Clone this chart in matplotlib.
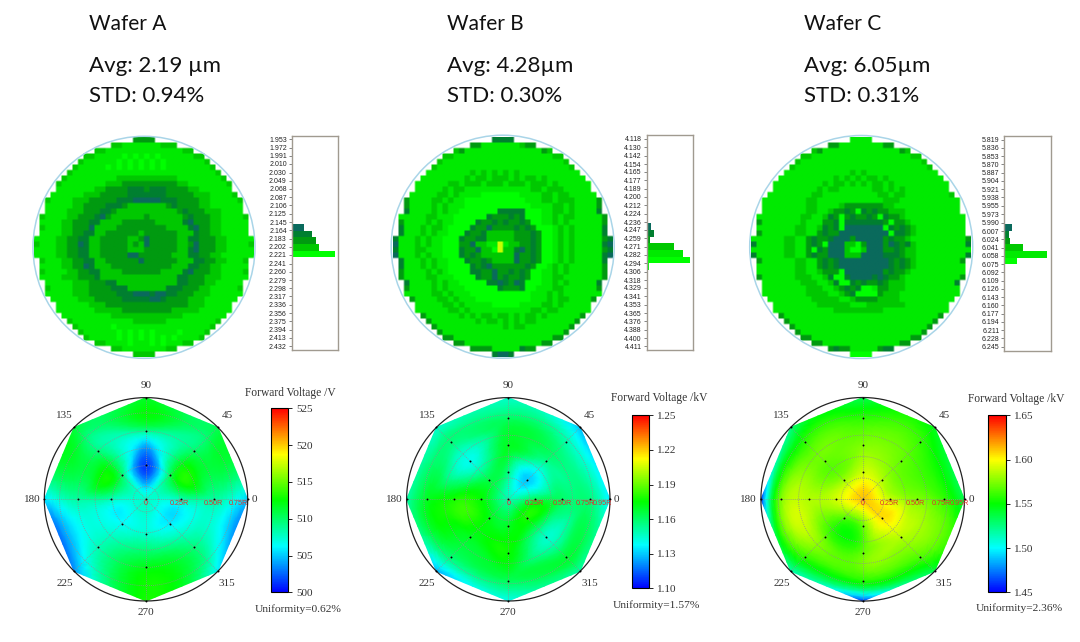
import numpy as np
import matplotlib
matplotlib.use('Agg')
import matplotlib.pyplot as plt
import matplotlib.tri as mtri
from matplotlib.colors import ListedColormap, LinearSegmentedColormap, Normalize
from matplotlib.cm import ScalarMappable
from matplotlib.patches import Circle

W, H = 1080, 642

# wafer text
names = ['Wafer A', 'Wafer B', 'Wafer C']
avgs = ['Avg: 2.19 µm', 'Avg: 4.28µm', 'Avg: 6.05µm']
stds = ['STD: 0.94%', 'STD: 0.30%', 'STD: 0.31%']

# thickness maps, one digit per die (0 = darkest bin, 6 = yellow)
map_a = [
    "2222",
    "334444444333",
    "334444444444444433",
    "3344444545454544444433",
    "344444454545454544444443",
    "34444454545454545444444443",
    "3444444444444444444444444443",
    "344444444433333333333444444443",
    "34444444433322222222223344444443",
    "44444443322221112111222233444444",
    "4444443332222211111112222233344443",
    "344443332222211100000111222233444443",
    "444443322221112333333321222233444444",
    "444433322211233333333333212223334444",
    "34444332221023333332333333212223344443",
    "44443322211333322222233333102223344444",
    "34443322203333222222222333310223344444",
    "44443322113322222232222223331223344444",
    "4444332211332222233202222233112223344444",
    "3444332201332222232302222233202223344443",
    "4444332211332222233322222233102223344444",
    "4444332211332222200222222333112233444444",
    "34443322113322222202222223331122334443",
    "44443322013332222222222233311223344444",
    "34444332211333322222223333102223344443",
    "44443332221333333333333331122233344444",
    "444443332221133333333333112223344444",
    "344443332222111333333311122233444443",
    "444443332222211100010011222333444444",
    "4444433322222111110012222333444444",
    "44444433322222222222222233344444",
    "44444443333322222222233333444444",
    "444444444333333333333344444444",
    "3444444444443333334444444443",
    "34444445444444444444444443",
    "344444454545454444544443",
    "3444445454545454544443",
    "334444544454544433",
    "334444444433",
    "3333",
]
map_b = [
    "1111",
    "224444444322",
    "324444444444444423",
    "3344444444444444444433",
    "344444444444444444444443",
    "34444444444444444444444443",
    "4444444434343434344444444444",
    "444444443433433343433434444444",
    "44444433433343334333433343444444",
    "44444343344444444444433433344444",
    "4444433434444555555544443343344444",
    "244443343445555555555544433433344442",
    "244443434445555555555554444334344442",
    "144443434455555551111155544334344441",
    "44444334445555551222121555443433444442",
    "24444343445555122121221255443434444442",
    "14443433455551220222212125554343444441",
    "14443434455512213333322212554343444441",
    "1444343445551221133333222125543434444421",
    "0444343445552203344643322125543434444410",
    "1444334445551220335633102125543434444421",
    "0444343445551212333333022125543434444410",
    "14443434455512212333302212554343444441",
    "14443434455551210222222125543434444442",
    "24444343455551122022121255443434444442",
    "24444334445555122021221255443344444442",
    "144443434455555110120155544343444441",
    "244443434445555551222155444334444442",
    "444443343444555555555554443434444444",
    "2444433434445555555555444343344442",
    "44444334344444555554444334344444",
    "44444433434444444444433433444444",
    "244444434343343343433434444442",
    "2444444443433434343344444442",
    "24444444444443433444444442",
    "244444444444444444444442",
    "2244444444444444444422",
    "224444444444444422",
    "222244444122",
    "1001",
]
map_c = [
    "4444",
    "224444444422",
    "324444444444444423",
    "3344444444444444444433",
    "344444444444444444444443",
    "34444444444444444444444443",
    "4444444444443434444444444444",
    "444444444434343433434444444444",
    "44444444434334343433434444444444",
    "44444444343344444433434344444444",
    "4444444433444444444433433444444443",
    "444444443344444444444433344444444444",
    "444444443344443222222233444444444444",
    "444444443344322125121223334444444444",
    "44444444334431252122125122344444444444",
    "24444444344422151111111252234444444444",
    "44444443344312150000000512123444444444",
    "24444443344212200000000051123444444444",
    "4444443344212210002000002122344444444442",
    "1444443344212500033520002012134444444441",
    "4444443344251200035530002212334444444444",
    "1444443344212200033300001112334444444441",
    "24444443344212100000000012123444444442",
    "44444443344212100000000012123444444444",
    "44444443344322250000000212234444444444",
    "24444443334431551000010122344444444442",
    "444444433344315512122123334444444441",
    "444444443334432121554223334444444444",
    "444444443333443215555233344444444444",
    "4444444433333443222233334444444444",
    "44444444333333444333333344444444",
    "44444444444333333333444444444444",
    "244444444444444444444444444442",
    "2444444444444444444444444442",
    "24444444444444444444444442",
    "244444444444444444444442",
    "2244444444444444444422",
    "224444444444444422",
    "212244444211",
    "5555",
]

# histograms beside the maps
ticks_a = ['1.953', '1.972', '1.991', '2.010', '2.030', '2.049', '2.068', '2.087', '2.106', '2.125', '2.145', '2.164', '2.183',
           '2.202', '2.221', '2.241', '2.260', '2.279', '2.298', '2.317', '2.336', '2.356', '2.375', '2.394', '2.413', '2.432']
ticks_b = ['4.118', '4.130', '4.142', '4.154', '4.165', '4.177', '4.189', '4.200', '4.212', '4.224', '4.236', '4.247', '4.259',
           '4.271', '4.282', '4.294', '4.306', '4.318', '4.329', '4.341', '4.353', '4.365', '4.376', '4.388', '4.400', '4.411']
ticks_c = ['5.819', '5.836', '5.853', '5.870', '5.887', '5.904', '5.921', '5.938', '5.955', '5.973', '5.990', '6.007', '6.024',
           '6.041', '6.058', '6.075', '6.092', '6.109', '6.126', '6.143', '6.160', '6.177', '6.194', '6.211', '6.228', '6.245']
bins_a = [2.1423, 2.1573, 2.1724, 2.188, 2.204, 2.2192, 2.234]
bins_b = [4.2328, 4.2423, 4.2517, 4.2607, 4.2702, 4.2801, 4.2896, 4.299]
bins_c = [6.0004, 6.0141, 6.0275, 6.0409, 6.0547, 6.0684]
counts_a = [2, 26, 44, 53, 59, 92, 2]
counts_b = [2, 9, 16, 7, 58, 77, 92, 6]
counts_c = [16, 10, 12, 40, 92, 28]
levels_a = [0, 0, 1, 2, 3, 5, 5]
levels_b = [0, 0, 1, 2, 3, 4, 5, 5]
levels_c = [0, 1, 2, 3, 4, 5]

# forward voltage probe points
angles = [0, 45, 90, 135, 180, 225, 270, 315]
rings_a = [0.34, 0.67, 1.0]
rings_b = [0.265, 0.53, 0.8, 1.0]
rings_c = [0.265, 0.53, 0.8, 1.0]
center_a, center_b, center_c = 507.5, 1.15, 1.61
volts_a = [[508, 510.5, 501.5, 510, 508, 506.5, 507.5, 506],
           [508.5, 510, 509, 509.5, 508.5, 508, 512, 509.5],
           [505, 510.5, 511.5, 511, 505.5, 503.5, 513, 506]]
volts_b = [[1.163, 1.13, 1.155, 1.165, 1.175, 1.172, 1.17, 1.178],
           [1.16, 1.155, 1.17, 1.14, 1.178, 1.17, 1.176, 1.145],
           [1.157, 1.15, 1.16, 1.157, 1.17, 1.158, 1.162, 1.167],
           [1.135, 1.128, 1.145, 1.145, 1.15, 1.125, 1.14, 1.15]]
volts_c = [[1.59, 1.585, 1.59, 1.58, 1.59, 1.565, 1.57, 1.605],
           [1.575, 1.57, 1.575, 1.57, 1.585, 1.57, 1.57, 1.585],
           [1.56, 1.56, 1.558, 1.558, 1.575, 1.56, 1.556, 1.565],
           [1.535, 1.545, 1.535, 1.525, 1.46, 1.515, 1.46, 1.535]]
cbar_ticks_a = [500, 505, 510, 515, 520, 525]
cbar_ticks_b = [1.10, 1.13, 1.16, 1.19, 1.22, 1.25]
cbar_ticks_c = [1.45, 1.50, 1.55, 1.60, 1.65]
cbar_labels_a = ['500', '505', '510', '515', '520', '525']
cbar_labels_b = ['1.10', '1.13', '1.16', '1.19', '1.22', '1.25']
cbar_labels_c = ['1.45', '1.50', '1.55', '1.60', '1.65']
grid_a = [0.125, 0.33, 0.5, 0.67, 0.85]
grid_b = [0.21, 0.42, 0.63, 0.83]
radial_a = [(0, '0'), (0.33, '0.25R'), (0.66, '0.50R'), (0.91, '0.75R')]
radial_b = [(0, '0'), (0.26, '0.25R'), (0.53, '0.50R'), (0.76, '0.75R'), (0.93, '0.95R')]
radial_c = [(0, '0'), (0.26, '0.25R'), (0.52, '0.50R'), (0.77, '0.75R'), (0.95, '0.95R')]
volt_titles = ['Forward Voltage /V', 'Forward Voltage /kV', 'Forward Voltage /kV']
uniformity = ['Uniformity=0.62%', 'Uniformity=1.57%', 'Uniformity=2.36%']

bin_colors = ['#0a6a5c', '#007f30', '#009a10', '#00c800', '#00ea00', '#00ff00', '#c8ff00']
rainbow = LinearSegmentedColormap.from_list('rainbow5', ['#0000ff', '#00ffff', '#00ff00', '#ffff00', '#ff0000'], N=256)

SERIF = 'Liberation Serif'
SANS = 'Liberation Sans'

fig = plt.figure(figsize=(W / 100, H / 100), dpi=100, facecolor='white')


def px_axes(x0, y0, x1, y1, **kw):
    return fig.add_axes([x0 / W, 1 - y1 / H, (x1 - x0) / W, (y1 - y0) / H], **kw)


def draw_map(rows, cx, cy, r):
    # rows are centred, every row is one line of dies
    grid = np.full((len(rows), 40), np.nan)
    for i, row in enumerate(rows):
        for j, ch in enumerate(row.center(40)):
            if ch != ' ':
                grid[i, j] = int(ch)
    cell = 5.5
    pad = r + 2
    ax = px_axes(cx - pad, cy - pad, cx + pad, cy + pad)
    cmap = ListedColormap(bin_colors).with_extremes(bad='white')
    # repeat the dies so the smoothing only softens their edges
    big = np.repeat(np.repeat(grid, 3, axis=0), 3, axis=1)
    ax.imshow(np.ma.masked_invalid(big), cmap=cmap, vmin=-0.5, vmax=6.5, extent=(-20, 20, 20, -20),
              interpolation='bilinear', interpolation_stage='rgba')
    ax.add_patch(Circle((0, 0), r / cell, fill=False, ec='#a9d5e8', lw=1.1))
    ax.set_xlim(-pad / cell, pad / cell)
    ax.set_ylim(pad / cell, -pad / cell)
    ax.axis('off')


def draw_hist(ticks, bins, counts, levels, box):
    values = [float(t) for t in ticks]
    step = (values[-1] - values[0]) / 25
    ax = px_axes(*box)
    ax.barh(bins, counts, height=step * 0.8, color=[bin_colors[k] for k in levels], linewidth=0)
    ax.set_xlim(0, 100)
    ax.set_ylim(values[-1] + 0.48 * step, values[0] - 0.4 * step)
    ax.set_yticks(values)
    ax.set_yticklabels(ticks, fontsize=5, family=SANS, color='#222222')
    ax.tick_params(axis='y', length=2, width=0.5, pad=1.5, color='#555555')
    ax.set_xticks([])
    for s in ax.spines.values():
        s.set_color('#a09a90')
        s.set_linewidth(1)


def draw_polar(rings, center, volts, lo, hi, grid, radial, cx, cy, R):
    th = np.radians(angles)
    xs, ys, zs = [0.0], [0.0], [center]
    for rr, row in zip(rings, volts):
        xs.extend(rr * np.cos(th))
        ys.extend(rr * np.sin(th))
        zs.extend(row)
    xs, ys, zs = np.array(xs), np.array(ys), np.array(zs)
    pad = R + 4
    ax = px_axes(cx - pad, cy - pad, cx + pad, cy + pad)
    tri = mtri.Triangulation(xs, ys)
    fine, fine_z = mtri.UniformTriRefiner(tri).refine_field(zs, subdiv=3)
    ax.tripcolor(fine, np.clip(fine_z, lo, hi), shading='gouraud', cmap=rainbow, vmin=lo, vmax=hi)
    t = np.linspace(0, 2 * np.pi, 361)
    for g in grid:
        ax.plot(g * np.cos(t), g * np.sin(t), color='#909090', lw=0.6, ls=(0, (1, 1.5)))
    for a in th[:4]:
        ax.plot([-np.cos(a), np.cos(a)], [-np.sin(a), np.sin(a)], color='#909090', lw=0.6, ls=(0, (1, 1.5)))
    ax.plot(np.cos(t), np.sin(t), color='#222222', lw=0.9)
    ax.plot(xs, ys, ls='none', marker='o', ms=1.4, color='black', mew=0)
    for rr, lab in radial:
        ax.text(rr, -0.045, lab, color='#e03030', fontsize=5.2, family=SANS, ha='center', va='center')
    for a in angles:
        ca, sa = np.cos(np.radians(a)), np.sin(np.radians(a))
        if a == 0:
            x, y, ha = 1.04, 0, 'left'
        elif a == 180:
            x, y, ha = -1.04, 0, 'right'
        elif a % 90 == 0:
            x, y, ha = 0, 1.115 * sa, 'center'
        else:
            x, y, ha = 1.13 * ca, 1.17 * sa, 'center'
        ax.text(x, y, str(a), fontsize=8, family=SERIF, color='#333333', ha=ha, va='center', clip_on=False)
    ax.set_xlim(-pad / R, pad / R)
    ax.set_ylim(-pad / R, pad / R)
    ax.axis('off')


def draw_cbar(lo, hi, ticks, labels, box):
    cax = px_axes(*box)
    cb = fig.colorbar(ScalarMappable(Normalize(lo, hi), rainbow), cax=cax)
    cb.set_ticks(ticks)
    cb.set_ticklabels(labels)
    cb.ax.tick_params(labelsize=8, length=3, width=0.6, pad=3, labelcolor='#333333')
    for lab in cb.ax.get_yticklabels():
        lab.set_family(SERIF)
    cb.outline.set_linewidth(0.8)


def px_text(x, y, s, **kw):
    fig.text(x / W, 1 - y / H, s, va='center', **kw)


# header text
for x, name, avg, std in zip([89, 447, 804], names, avgs, stds):
    px_text(x, 24, name, fontsize=15, family='Lato', color='#111111')
    px_text(x, 66, avg, fontsize=16, family='Lato', color='#111111')
    px_text(x, 96, std, fontsize=16, family='Lato', color='#111111')

draw_map(map_a, 144, 247.3, 111)
draw_map(map_b, 502.7, 246.7, 111.5)
draw_map(map_c, 861.2, 247, 111.5)

draw_hist(ticks_a, bins_a, counts_a, levels_a, (291.7, 136, 338.3, 350))
draw_hist(ticks_b, bins_b, counts_b, levels_b, (646.7, 135.3, 693.3, 350))
draw_hist(ticks_c, bins_c, counts_c, levels_c, (1004.3, 136.3, 1051, 350.7))

draw_polar(rings_a, center_a, volts_a, 500, 525, grid_a, radial_a, 146, 499.3, 101.7)
draw_polar(rings_b, center_b, volts_b, 1.10, 1.25, grid_b, radial_b, 508.3, 499.3, 101.7)
draw_polar(rings_c, center_c, volts_c, 1.45, 1.65, grid_b, radial_c, 862.7, 499.3, 101.8)

draw_cbar(500, 525, cbar_ticks_a, cbar_labels_a, (270.7, 408.3, 287.7, 592.3))
draw_cbar(1.10, 1.25, cbar_ticks_b, cbar_labels_b, (632.3, 415.3, 648.7, 588.3))
draw_cbar(1.45, 1.65, cbar_ticks_c, cbar_labels_c, (988.3, 415.3, 1005.7, 592.3))

for x, y, s in zip([290.7, 659, 1015.7], [393, 398, 399], volt_titles):
    px_text(x, y, s, fontsize=8.3, family=SERIF, color='#333333', ha='center')
for x, y, s in zip([297.7, 656.7, 1019], [609, 605, 608], uniformity):
    px_text(x, y, s, fontsize=8.2, family=SERIF, color='#333333', ha='center')

fig.savefig('out.png', dpi=100)
